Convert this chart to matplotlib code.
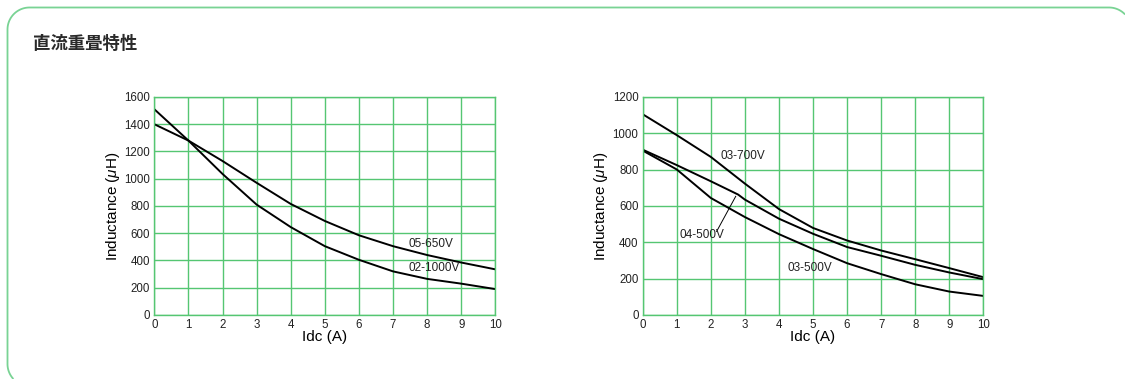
import numpy as np
import matplotlib
matplotlib.use("Agg")
from matplotlib import pyplot as plt

plt.rcParams['font.family'] = ['Liberation Sans', 'Noto Sans CJK JP', 'DejaVu Sans']
plt.rcParams['mathtext.fontset'] = 'custom'
plt.rcParams['mathtext.it'] = 'Liberation Sans:italic'

GRID = '#55c672'
FRAME = '#79d394'

# left chart
idc = [0, 1, 2, 3, 4, 5, 6, 7, 8, 9, 10]
l_05_650 = [1400, 1280, 1130, 970, 815, 690, 585, 505, 440, 385, 335]
l_02_1000 = [1510, 1280, 1035, 810, 645, 505, 405, 320, 265, 230, 190]

# right chart
r_03_700 = [1105, 990, 870, 723, 583, 479, 410, 355, 307, 258, 208]
idc_04 = [0, 1, 2, 2.8, 3, 4, 5, 6, 7, 8, 9, 10]
r_04_500 = [910, 825, 736, 663, 635, 530, 447, 374, 326, 276, 234, 197]
r_03_500 = [905, 801, 644, 539, 445, 363, 285, 225, 169, 129, 105]

xticks = list(range(0, 11))
left_yticks = [0, 200, 400, 600, 800, 1000, 1200, 1400, 1600]
right_yticks = [0, 200, 400, 600, 800, 1000, 1200]

fig = plt.figure(figsize=(11.25, 3.79), dpi=100)

# rounded green frame in pixel coordinates, cut off at the right and bottom edges
bg = fig.add_axes([0, 0, 1, 1])
bg.set_xlim(0, 1125)
bg.set_ylim(379, 0)
bg.axis('off')
x0, y0, x1, y1, r = 7.5, 7.5, 1131, 386, 22


def arc(cx, cy, a0, a1):
    t = np.radians(np.linspace(a0, a1, 40))
    return cx + r * np.cos(t), cy + r * np.sin(t)


fx, fy = [], []
ax_, ay_ = arc(x0 + r, y1 - r, 137, 180)      # bottom-left corner (partial)
fx += list(ax_); fy += list(ay_)
ax_, ay_ = arc(x0 + r, y0 + r, 180, 270)      # top-left corner
fx += list(ax_); fy += list(ay_)
ax_, ay_ = arc(x1 - r, y0 + r, 270, 317)      # top-right corner (partial)
fx += list(ax_); fy += list(ay_)
bg.plot(fx, fy, color=FRAME, linewidth=1.3, solid_capstyle='butt')

bg.text(33, 44, '直流重畳特性', fontsize=12.5, fontweight='bold', color='#2a2a2a',
        va='center', ha='left', family=['Noto Sans CJK JP', 'DejaVu Sans'])


def setup(ax, ymax, yticks):
    ax.set_xlim(0, 10)
    ax.set_ylim(0, ymax)
    ax.set_xticks(xticks)
    ax.set_yticks(yticks)
    ax.grid(True, color=GRID, linewidth=1.0)
    ax.set_axisbelow(True)
    for s in ax.spines.values():
        s.set_color(GRID)
        s.set_linewidth(1.0)
    ax.tick_params(length=0, labelsize=8.3, pad=3, colors='#222222')
    ax.set_xlabel('Idc (A)', fontsize=11, labelpad=-1)
    ax.set_ylabel('Inductance ($\\mu$H)', fontsize=11, labelpad=2)


ax1 = fig.add_axes([0.1372, 0.1689, 0.3031, 0.5752])
setup(ax1, 1600, left_yticks)
ax1.plot(idc, l_05_650, color='black', linewidth=1.4)
ax1.plot(idc, l_02_1000, color='black', linewidth=1.4)
ax1.text(8.1, 519, '05-650V', fontsize=8.5, ha='center', va='center', color='#222222')
ax1.text(8.2, 347, '02-1000V', fontsize=8.5, ha='center', va='center', color='#222222')

ax2 = fig.add_axes([0.5713, 0.1689, 0.3028, 0.5752])
setup(ax2, 1200, right_yticks)
ax2.plot(idc, r_03_700, color='black', linewidth=1.4)
ax2.plot(idc_04, r_04_500, color='black', linewidth=1.4)
ax2.plot(idc, r_03_500, color='black', linewidth=1.4)
ax2.text(2.95, 874, '03-700V', fontsize=8.5, ha='center', va='center', color='#222222')
ax2.text(1.73, 442, '04-500V', fontsize=8.5, ha='center', va='center', color='#222222')
ax2.plot([2.17, 2.73], [460, 653], color='black', linewidth=0.7)
ax2.text(4.91, 261, '03-500V', fontsize=8.5, ha='center', va='center', color='#222222')

fig.savefig('out.png', dpi=100)
